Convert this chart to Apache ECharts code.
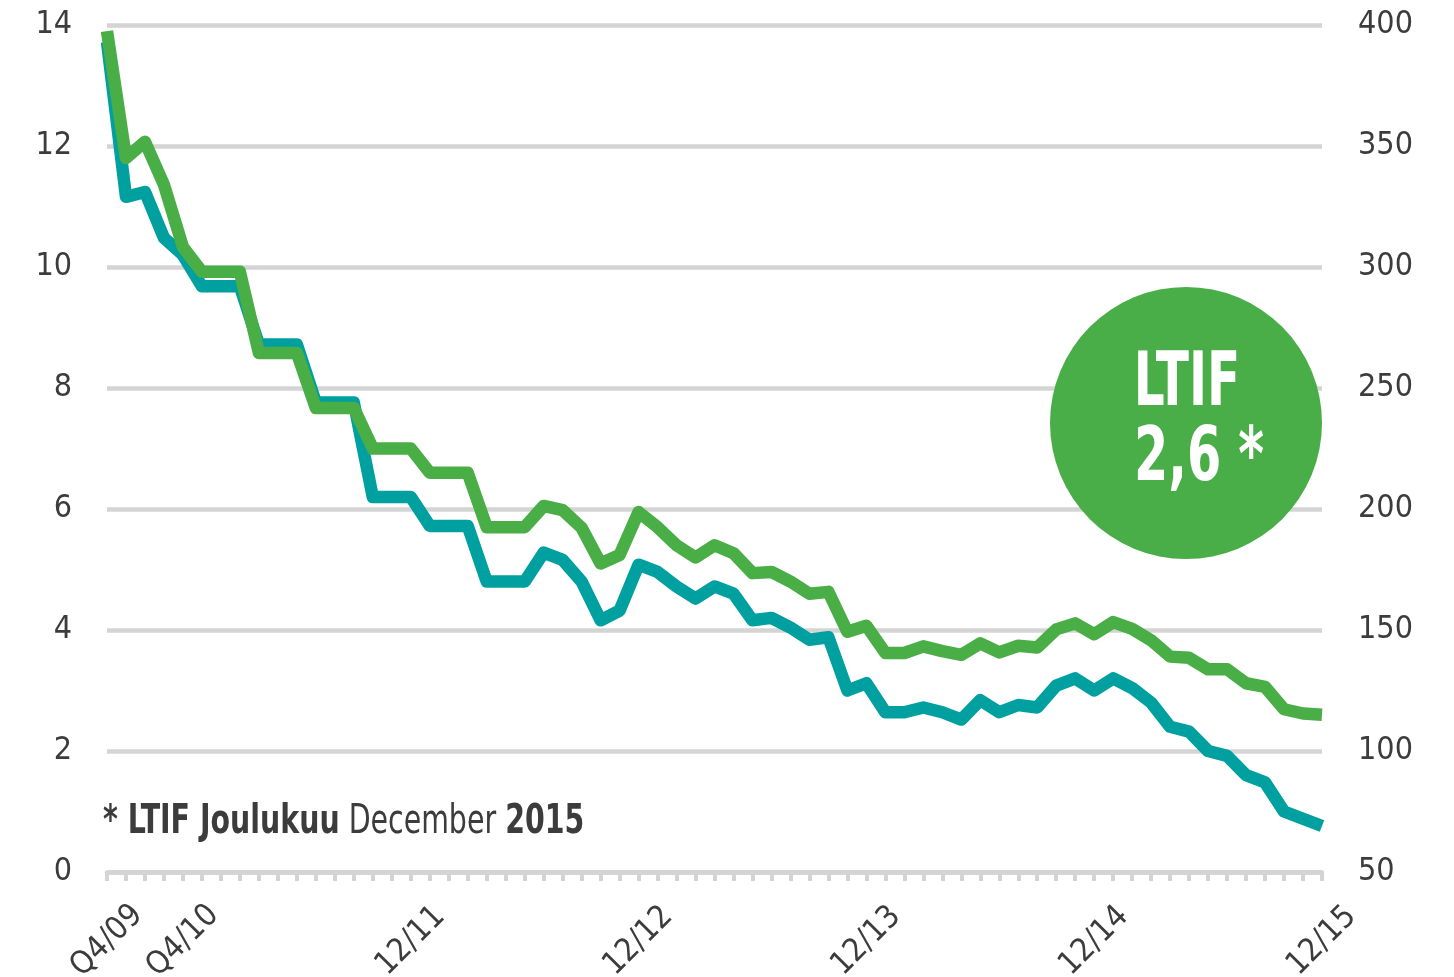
<!DOCTYPE html>
<html><head><meta charset="utf-8">
<script src="https://cdn.jsdelivr.net/npm/echarts@6/dist/echarts.min.js"></script>
<style>html,body{margin:0;padding:0;background:#fff}#c{width:1454px;height:977px}</style>
</head><body><div id="c"></div>
<script>
const categories = [
  'Q4/09','Q1/10','Q2/10','Q3/10','Q4/10',
  '1/11','2/11','3/11','4/11','5/11','6/11','7/11','8/11','9/11','10/11','11/11','12/11',
  '1/12','2/12','3/12','4/12','5/12','6/12','7/12','8/12','9/12','10/12','11/12','12/12',
  '1/13','2/13','3/13','4/13','5/13','6/13','7/13','8/13','9/13','10/13','11/13','12/13',
  '1/14','2/14','3/14','4/14','5/14','6/14','7/14','8/14','9/14','10/14','11/14','12/14',
  '1/15','2/15','3/15','4/15','5/15','6/15','7/15','8/15','9/15','10/15','11/15','12/15'
];
// LTIF (left axis)
const ltifValues = [
  13.9, 11.8, 12.07, 11.36, 10.33,
  9.92, 9.92, 9.92, 8.58, 8.58, 8.58, 7.67, 7.67, 7.67, 7.0, 7.0, 7.0,
  6.6, 6.6, 6.6, 5.7, 5.7, 5.7, 6.05, 5.98, 5.69, 5.1, 5.24, 5.95,
  5.7, 5.4, 5.2, 5.4, 5.27, 4.94, 4.96, 4.8, 4.6, 4.63, 3.97, 4.07,
  3.62, 3.62, 3.73, 3.65, 3.59, 3.78, 3.63, 3.74, 3.71, 4.01, 4.11, 3.93,
  4.13, 4.02, 3.83, 3.56, 3.54, 3.35, 3.35, 3.12, 3.06, 2.69, 2.62, 2.6
];
// second series (right axis)
const secondValues = [
  393, 329, 331, 312, 305,
  292, 292, 292, 268, 268, 268, 244, 244, 244, 205, 205, 205,
  193, 193, 193, 170, 170, 170, 182, 179, 170, 154, 158, 177,
  174, 168, 163, 168, 165, 154, 155, 151, 146, 147, 125, 128,
  116, 116, 118, 116, 113, 121, 116, 119, 118, 127, 130, 125,
  130, 126, 120, 110, 108, 100, 98, 90, 87, 75, 72, 69
];
const shownLabelIdx = [0, 4, 16, 28, 40, 52, 64];
const leftAxis = { min: 0, max: 14, interval: 2 };
const rightAxis = { min: 50, max: 400, interval: 50 };
const badgeTitle = 'LTIF';
const badgeValue = '2,6 *';

const FONT = "'Liberation Sans Narrow','DejaVu Sans Condensed','Open Sans',sans-serif";
const GRIDC = '#d4d4d4';
const TXT = '#3c3c3c';
const GREEN = '#4aae47';
const TEAL = '#00a0a0';

const chart = echarts.init(document.getElementById('c'), null, { renderer: 'canvas' });
chart.setOption({
  animation: false,
  backgroundColor: '#ffffff',
  grid: { left: 107, right: 132, top: 25, bottom: 105, containLabel: false, outerBoundsMode: 'none' },
  xAxis: {
    type: 'category',
    data: categories,
    boundaryGap: false,
    axisLine: { show: true, lineStyle: { color: GRIDC, width: 4.5 } },
    axisTick: { show: true, interval: 0, length: 9, inside: false, lineStyle: { color: GRIDC, width: 4 } },
    splitLine: { show: false },
    axisLabel: {
      show: true,
      interval: (idx) => shownLabelIdx.indexOf(idx) >= 0,
      rotate: 45,
      align: 'center',
      verticalAlign: 'middle',
      margin: 69,
      color: TXT,
      fontFamily: FONT,
      fontSize: 32,
      hideOverlap: false
    }
  },
  yAxis: [
    {
      type: 'value', position: 'left',
      min: leftAxis.min, max: leftAxis.max, interval: leftAxis.interval,
      axisLine: { show: false }, axisTick: { show: false },
      splitLine: { show: true, lineStyle: { color: GRIDC, width: 4.5 } },
      axisLabel: { color: TXT, fontFamily: FONT, fontSize: 32, margin: 35 }
    },
    {
      type: 'value', position: 'right',
      min: rightAxis.min, max: rightAxis.max, interval: rightAxis.interval,
      axisLine: { show: false }, axisTick: { show: false },
      splitLine: { show: false },
      axisLabel: { color: TXT, fontFamily: FONT, fontSize: 32, margin: 36 }
    }
  ],
  series: [
    {
      type: 'line', yAxisIndex: 1, data: secondValues, showSymbol: false, symbol: 'none',
      lineStyle: { color: TEAL, width: 12.5, join: 'round', cap: 'butt' }, z: 3
    },
    {
      type: 'line', yAxisIndex: 0, data: ltifValues, showSymbol: false, symbol: 'none',
      lineStyle: { color: GREEN, width: 12.5, join: 'round', cap: 'butt' }, z: 4
    }
  ],
  graphic: [
    { type: 'circle', shape: { cx: 1186, cy: 423, r: 136 }, style: { fill: '#49ad48' }, z: 10 },
    { type: 'text', x: 1187, y: 386, z: 11, scaleX: 0.73, originX: 0, originY: 0,
      style: { text: badgeTitle, fill: '#ffffff', font: "bold 74px " + FONT, textAlign: 'center', textVerticalAlign: 'middle' } },
    { type: 'text', x: 1199, y: 461, z: 11, scaleX: 0.74, originX: 0, originY: 0,
      style: { text: badgeValue, fill: '#ffffff', font: "bold 74px " + FONT, textAlign: 'center', textVerticalAlign: 'middle' } },
    { type: 'text', x: 103, y: 823, z: 11, scaleX: 0.79, originX: 0, originY: 0,
      style: {
        text: '{b|* LTIF Joulukuu} {r|December} {b|2015}',
        textVerticalAlign: 'middle',
        rich: {
          b: { fontFamily: FONT, fontWeight: 'bold', fontSize: 40, fill: TXT, color: TXT },
          r: { fontFamily: FONT, fontWeight: 'normal', fontSize: 40, fill: TXT, color: TXT }
        },
        fill: TXT, font: "40px " + FONT
      } }
  ]
});
</script>
</body></html>
